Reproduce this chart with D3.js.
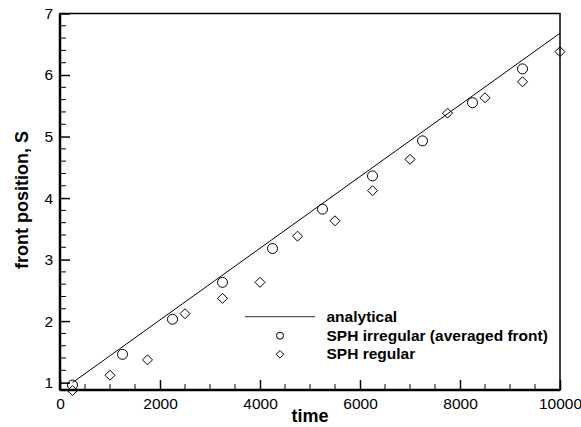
<!DOCTYPE html>
<html>
<head>
<meta charset="utf-8">
<script src="https://d3js.org/d3.v7.min.js"></script>
<style>
  body { margin: 0; background: #fff; }
  text { font-family: 'Liberation Sans', Arial, Helvetica, sans-serif; }
</style>
</head>
<body>
<script>
// analytical solution (straight line)
const analyticalT = [250, 10000];
const analyticalS = [1.0, 6.68];

// SPH irregular (averaged front)
const irrT = [250, 1250, 2250, 3250, 4250, 5250, 6250, 7250, 8250, 9250];
const irrS = [0.96, 1.46, 2.03, 2.63, 3.18, 3.82, 4.36, 4.93, 5.55, 6.10];

// SPH regular
const regT = [250, 1000, 1750, 2500, 3250, 4000, 4750, 5500, 6250, 7000, 7750, 8500, 9250, 10000];
const regS = [0.87, 1.12, 1.37, 2.12, 2.37, 2.63, 3.38, 3.63, 4.12, 4.63, 5.38, 5.63, 5.89, 6.38];

const xTicks = [0, 2000, 4000, 6000, 8000, 10000];
const yTicks = [1, 2, 3, 4, 5, 6, 7];

const legendLabels = ['analytical', 'SPH irregular (averaged front)', 'SPH regular'];

const width = 581, height = 427;
const margin = {top: 13.5, right: 21, bottom: 37, left: 60};
const innerW = width - margin.left - margin.right,
  innerH = height - margin.top - margin.bottom;

const svg = d3.select('body').append('svg').attr('width', width).attr('height', height);
const g = svg.append('g').attr('transform', `translate(${margin.left},${margin.top})`);

const x = d3.scaleLinear().domain([0, 10000]).range([0, innerW]);
const y = d3.scaleLinear().domain([0.88, 7]).range([innerH, 0]);

// minor ticks
const xMinor = d3.range(0, 10001, 500).filter(v => v % 2000 !== 0);
const yMinor = d3.range(1, 7.001, 0.2).filter(v => Math.abs(v - Math.round(v)) > 1e-6);

g.append('g').selectAll('line').data(xMinor).join('line')
  .attr('x1', d => x(d)).attr('x2', d => x(d))
  .attr('y1', innerH).attr('y2', innerH - 6)
  .attr('stroke', '#000').attr('stroke-width', 1);
g.append('g').selectAll('line').data(yMinor).join('line')
  .attr('y1', d => y(d)).attr('y2', d => y(d))
  .attr('x1', 0).attr('x2', 6)
  .attr('stroke', '#000').attr('stroke-width', 1);

// major ticks + labels via axes
const xAxis = g.append('g').attr('transform', `translate(0,${innerH})`)
  .call(d3.axisBottom(x).tickValues(xTicks).tickSizeInner(-10).tickSizeOuter(0).tickPadding(6).tickFormat(d3.format('d')));
const yAxis = g.append('g')
  .call(d3.axisLeft(y).tickValues(yTicks).tickSizeInner(-10).tickSizeOuter(0).tickPadding(7).tickFormat(d3.format('d')));

[xAxis, yAxis].forEach(a => {
  a.select('.domain').remove();
  a.selectAll('.tick line').attr('stroke-width', 1.5);
  a.selectAll('.tick text').attr('font-size', 15.5).attr('fill', '#000')
    .style('font-family', "'Liberation Sans', Arial, sans-serif");
});
xAxis.selectAll('.tick text').attr('dy', '0.85em');

// frame
g.append('rect').attr('width', innerW).attr('height', innerH)
  .attr('fill', 'none').attr('stroke', '#000').attr('stroke-width', 1.5);
g.append('line').attr('x1', 0).attr('x2', 0).attr('y1', 0).attr('y2', innerH)
  .attr('stroke', '#000').attr('stroke-width', 2.5);
g.append('line').attr('x1', 0).attr('x2', innerW).attr('y1', innerH).attr('y2', innerH)
  .attr('stroke', '#000').attr('stroke-width', 2.5);

// analytical line
const line = d3.line().x(d => x(d[0])).y(d => y(d[1]));
g.append('path').datum(d3.zip(analyticalT, analyticalS))
  .attr('d', line).attr('fill', 'none').attr('stroke', '#000').attr('stroke-width', 1);

// circles
g.append('g').selectAll('circle').data(d3.zip(irrT, irrS)).join('circle')
  .attr('cx', d => x(d[0])).attr('cy', d => y(d[1])).attr('r', 5)
  .attr('fill', 'none').attr('stroke', '#000').attr('stroke-width', 1);

// diamonds
const diamond = (cx, cy, r) => `M${cx},${cy - r}L${cx + r},${cy}L${cx},${cy + r}L${cx - r},${cy}Z`;
g.append('g').selectAll('path').data(d3.zip(regT, regS)).join('path')
  .attr('d', d => diamond(x(d[0]), y(d[1]), 5))
  .attr('fill', 'none').attr('stroke', '#000').attr('stroke-width', 1);

// axis titles
svg.append('text').attr('x', 310).attr('y', 422).attr('text-anchor', 'middle')
  .attr('font-size', 18).attr('font-weight', 'bold').text('time');
svg.append('text').attr('transform', 'translate(28,200) rotate(-90)').attr('text-anchor', 'middle')
  .attr('font-size', 18).attr('font-weight', 'bold').text('front position, S');

// legend
const lg = svg.append('g');
const rowY = [322.3, 340.8, 358.5];
lg.append('line').attr('x1', 245).attr('x2', 315).attr('y1', 316.7).attr('y2', 316.7)
  .attr('stroke', '#555').attr('stroke-width', 1.2);
lg.append('circle').attr('cx', 280).attr('cy', 335.7).attr('r', 3.5)
  .attr('fill', 'none').attr('stroke', '#000');
lg.append('path').attr('d', diamond(280, 354.3, 3.8))
  .attr('fill', 'none').attr('stroke', '#000');
lg.selectAll('text').data(legendLabels).join('text')
  .attr('x', 326.5).attr('y', (d, i) => rowY[i])
  .attr('font-size', 15.5).attr('font-weight', 'bold').text(d => d);
</script>
</body>
</html>
